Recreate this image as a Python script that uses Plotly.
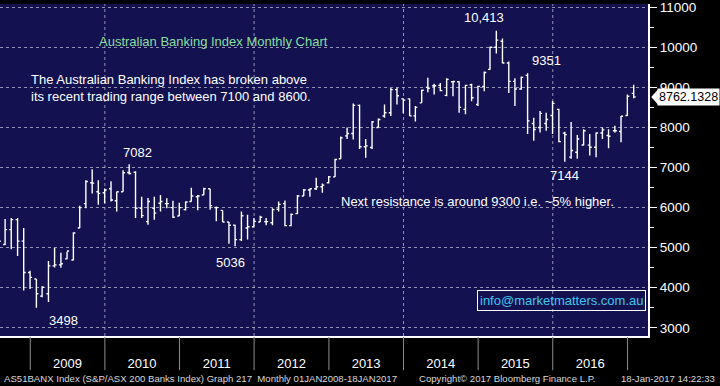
import pandas as pd
import plotly.graph_objects as go

# ---- data (monthly OHLC, Jul 2008 .. Jan 2017) ----
start_month = "2008-07"
opens = [5600, 5080, 5451, 5700, 5163, 4381, 4218, 3790, 3850, 4546, 4570, 4720, 4690, 5491,
         6100, 6618, 6396, 6370, 6470, 6170, 6396, 6875, 6880, 5980, 5650, 5984, 6107, 6100,
         6000, 5790, 5950, 6150, 6270, 6314, 6470, 6000, 5930, 5640, 5560, 5200, 5491, 5520,
         5640, 5650, 5620, 5960, 6100, 5550, 5850, 6290, 6437, 6470, 6520, 6620, 6766, 7217,
         7790, 7850, 8550, 7520, 7500, 8000, 8287, 8368, 8943, 8714, 8714, 8290, 8614, 9000,
         9041, 9050, 8800, 9140, 9140, 8450, 9066, 8573, 9025, 9450, 10000, 10150, 9610, 9150,
         8960, 9300, 8100, 8000, 8100, 8300, 8450, 7858, 7259, 7382, 7562, 7560, 7505, 7860,
         7800, 7917, 7900, 8300, 8850]
highs = [5760, 5713, 5737, 5737, 5491, 4423, 4218, 4036, 4669, 4997, 4870, 4900, 5385, 6043,
         6684, 6955, 6684, 6479, 6660, 6396, 6930, 7082, 6906, 6272, 6240, 6268, 6314, 6230,
         6168, 6120, 6150, 6494, 6314, 6494, 6470, 6026, 5930, 5640, 5574, 5902, 5821, 5740,
         5796, 5740, 5984, 6150, 6175, 5850, 6314, 6462, 6479, 6742, 6601, 6790, 7217, 7777,
         7999, 8598, 8573, 7710, 8164, 8222, 8573, 8985, 8993, 8722, 8722, 8533, 8943, 9240,
         9090, 9108, 9230, 9150, 9150, 9066, 9090, 9041, 9396, 10013, 10413, 10218, 9643, 9230,
         9272, 9351, 8245, 8410, 8368, 8657, 8466, 7892, 8139, 7810, 7957, 7835, 7875, 7999,
         7957, 8040, 8287, 8820, 9066]
lows = [5050, 5064, 4958, 4793, 3930, 3971, 3498, 3764, 3641, 4504, 4500, 4711, 4686, 5491,
        5984, 6354, 6068, 6110, 6150, 5902, 6396, 6823, 5737, 5737, 5574, 5698, 5902, 5984,
        5737, 5787, 5930, 6150, 5935, 6314, 5944, 5656, 5640, 5096, 5036, 5163, 5205, 5520,
        5640, 5560, 5560, 5902, 5533, 5533, 5840, 6290, 6272, 6437, 6371, 6601, 6766, 7217,
        7710, 7700, 7463, 7242, 7463, 7999, 8245, 8287, 8573, 8352, 8287, 8150, 8614, 8878,
        8820, 8904, 8778, 8778, 8368, 8327, 8655, 8533, 8904, 9437, 9848, 9602, 8861, 8533,
        8943, 7835, 7670, 7875, 7917, 7835, 7629, 7144, 7217, 7217, 7547, 7300, 7259, 7710,
        7480, 7875, 7629, 8287, 8730]
closes = [5160, 5451, 5700, 5163, 4381, 4258, 3848, 4011, 4546, 4570, 4600, 4916, 5367, 6000,
          6650, 6610, 6355, 6437, 6191, 6396, 6871, 6850, 5984, 5800, 6150, 5861, 6150, 6100,
          5760, 6000, 6140, 6290, 6290, 6470, 6050, 6000, 5640, 5560, 5200, 5796, 5520, 5656,
          5757, 5650, 5950, 6080, 5550, 5830, 6290, 6437, 6470, 6520, 6560, 6766, 7200, 7740,
          7850, 8550, 7520, 7540, 8140, 8200, 8368, 8943, 8790, 8682, 8290, 8500, 8930, 8980,
          9041, 8920, 9200, 9145, 8500, 9050, 8740, 9025, 9370, 10000, 10180, 9610, 9150, 8960,
          9250, 8164, 7950, 8350, 8200, 8600, 7645, 7820, 7424, 7710, 7917, 7505, 7860, 7940,
          7780, 7917, 8280, 8780, 8762.1328]

years = [2009, 2010, 2011, 2012, 2013, 2014, 2015, 2016]
year_bounds = [2009, 2010, 2011, 2012, 2013, 2014, 2015, 2016, 2017]
grid_years = [2010, 2012, 2014, 2016]
y_ticks = [3000, 4000, 5000, 6000, 7000, 8000, 9000, 10000, 11000]

# month-end dates
dates = [pd.Period(start_month, "M") + i for i in range(len(closes))]
dates = [p.to_timestamp(how="end").normalize() for p in dates]

FONT = "Liberation Sans, Arial, sans-serif"
NAVY = "#131150"
TXT = 13

fig = go.Figure()
fig.add_trace(go.Ohlc(
    x=dates, open=opens, high=highs, low=lows, close=closes,
    increasing=dict(line=dict(color="white", width=1.4)),
    decreasing=dict(line=dict(color="white", width=1.4)),
    tickwidth=0.35, showlegend=False, hoverinfo="skip",
))

shapes = []
for yv in grid_years:
    shapes.append(dict(type="line", xref="x", yref="paper", x0=f"{yv}-01-01", x1=f"{yv}-01-01",
                       y0=0, y1=1, line=dict(color="rgba(190,190,215,0.75)", width=1, dash="3px,3px"),
                       layer="below"))
for yv in year_bounds:
    shapes.append(dict(type="line", xref="x", yref="paper", x0=f"{yv}-01-01", x1=f"{yv}-01-01",
                       y0=-0.003, y1=-0.103, line=dict(color="#8c8c8c", width=1)))

# last price marker (arrow + box)
last = closes[-1]
shapes.append(dict(type="path", xref="paper", yref="y",
                   path=f"M 1.005,{last} L 1.016,{last + 200} L 1.016,{last - 200} Z",
                   fillcolor="white", line=dict(color="white", width=0)))

ann = []
def label(text, i, val, xanchor_shift, yanchor, yshift):
    ann.append(dict(x=dates[i], y=val, xref="x", yref="y", text=text, showarrow=False,
                    xshift=xanchor_shift, yshift=yshift, yanchor=yanchor,
                    font=dict(family=FONT, size=TXT, color="white")))

label("7082", highs.index(7082), 7082, 8, "bottom", 2)
label("3498", lows.index(3498), 3498, 27, "top", -3)
label("5036", lows.index(5036), 5036, -5, "top", -7)
label("10,413", highs.index(10413), 10413, -12, "bottom", 4)
label("9351", highs.index(9351), 9351, 19, "bottom", 3)
label("7144", lows.index(7144), 7144, 0, "top", -4)

W, H = 648.0, 336.0
def px(x, y, text, color="white", size=TXT, **kw):
    d = dict(x=x / W, y=1 - y / H, xref="paper", yref="paper", text=text, showarrow=False,
             xanchor="left", yanchor="middle", align="left",
             font=dict(family=FONT, size=size, color=color))
    d.update(kw)
    ann.append(d)

px(97, 38, "Australian Banking Index Monthly Chart", color="#8adf9e")
px(29, 85, "The Australian Banking Index has broken above<br>its recent trading range between 7100 and 8600.")
px(339, 200, "Next resistance is around 9300 i.e. ~5% higher.")
px(646, 300, "info@marketmatters.com.au", color="#3cc8ec", xanchor="right",
   bordercolor="white", borderwidth=1, borderpad=2)

# price box
ann.append(dict(x=1, y=last, xref="paper", yref="y", text=f"{last:.4f}", showarrow=False,
                xanchor="left", yanchor="middle", xshift=9, bgcolor="white",
                font=dict(family=FONT, size=12.5, color="black"), borderpad=1))

# footer
foot = dict(family=FONT, size=9.6, color="#d8d8d8")
ann.append(dict(x=2 / W, y=-43 / H, xref="paper", yref="paper", xanchor="left", yanchor="middle",
                showarrow=False, font=foot,
                text="AS51BANX Index (S&P/ASX 200 Banks Index) Graph 217  Monthly 01JAN2008-18JAN2017"))
ann.append(dict(x=417 / W, y=-43 / H, xref="paper", yref="paper", xanchor="left", yanchor="middle",
                showarrow=False, font=foot, text="Copyright© 2017 Bloomberg Finance L.P."))
ann.append(dict(x=717 / W, y=-43 / H, xref="paper", yref="paper", xanchor="right", yanchor="middle",
                showarrow=False, font=foot, text="18-Jan-2017 14:22:33"))

fig.update_layout(
    width=720, height=386,
    margin=dict(l=0, r=72, t=0, b=50),
    paper_bgcolor="black", plot_bgcolor=NAVY,
    shapes=shapes, annotations=ann,
    xaxis=dict(type="date", range=["2008-08-06", "2017-04-11"], rangeslider=dict(visible=False),
               showgrid=False, zeroline=False, showline=True, linecolor="white", linewidth=2,
               tickvals=[f"{y}-07-02" for y in years], ticktext=[str(y) for y in years],
               ticks="", ticklabelstandoff=14,
               tickfont=dict(family=FONT, size=13, color="white")),
    yaxis=dict(side="right", range=[2795, 11081], tickvals=y_ticks,
               ticktext=[str(v) for v in y_ticks], ticklabeloverflow="allow",
               showgrid=True, gridcolor="rgba(190,190,215,0.75)", griddash="3px,3px", gridwidth=1,
               zeroline=False, showline=True, linecolor="white", linewidth=2,
               ticks="outside", ticklen=7, tickcolor="white", tickwidth=1,
               minor=dict(dtick=500, tick0=2500, ticks="outside", ticklen=4, tickcolor="white", showgrid=False),
               tickfont=dict(family=FONT, size=13.5, color="white")),
)

fig.write_html("out.html", config={"displayModeBar": False},
               post_script="document.body.style.margin='0';document.body.style.padding='0';"
                           "document.documentElement.style.background='black';")
